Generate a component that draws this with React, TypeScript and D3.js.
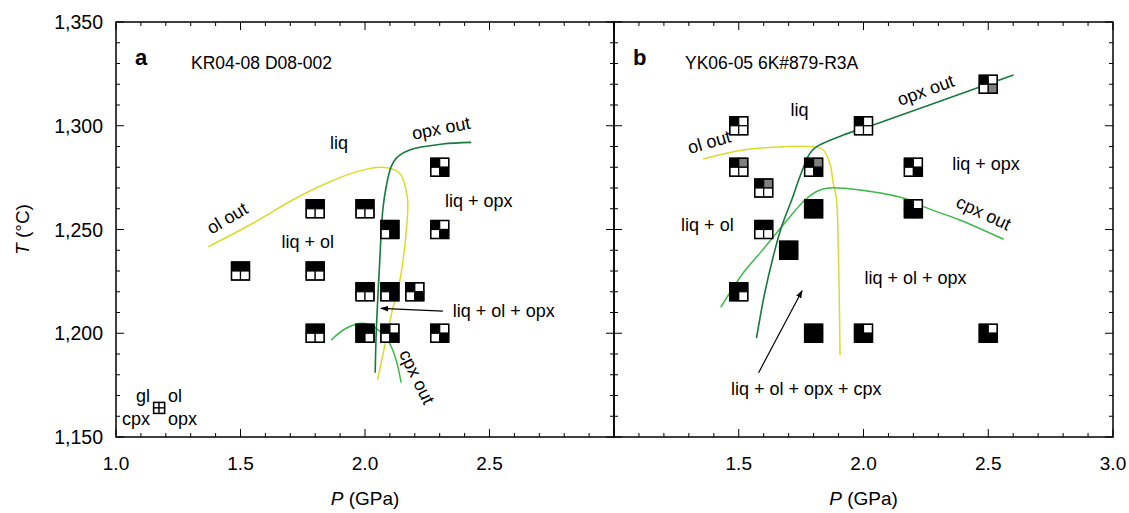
import * as d3 from "d3";
import React from "react";

const W = 1129;
const H = 513;

// axes
const pDomain = [1.0, 3.0];
const tDomain = [1150, 1350];
const tempTickLabels = [1150, 1200, 1250, 1300, 1350];
const pressLabelsA = [1.0, 1.5, 2.0, 2.5];
const pressLabelsB = [1.5, 2.0, 2.5, 3.0];

// experiments, phases = [gl, ol, cpx, opx]; 0 absent, 1 present, 2 minor
const pressA = [1.5, 1.8, 2.0, 1.8, 2.1, 2.3, 2.3, 2.0, 2.1, 2.2, 1.8, 2.0, 2.1, 2.3];
const tempA = [1230, 1260, 1260, 1230, 1250, 1250, 1280, 1220, 1220, 1220, 1200, 1200, 1200, 1200];
const phasesA = [
  [1, 1, 0, 0], [1, 1, 0, 0], [1, 1, 0, 0], [1, 1, 0, 0], [1, 1, 0, 1], [1, 0, 0, 1], [1, 0, 0, 1],
  [1, 1, 0, 0], [1, 1, 0, 1], [1, 0, 0, 1], [1, 1, 0, 0], [1, 1, 1, 0], [1, 0, 0, 1], [1, 0, 0, 1],
];

const pressB = [1.5, 2.0, 2.5, 1.5, 1.6, 1.8, 2.2, 1.8, 2.2, 1.6, 1.7, 1.5, 1.8, 2.0, 2.5];
const tempB = [1300, 1300, 1320, 1280, 1270, 1280, 1280, 1260, 1260, 1250, 1240, 1220, 1200, 1200, 1200];
const phasesB = [
  [1, 0, 0, 0], [1, 0, 0, 0], [1, 0, 0, 2], [1, 2, 0, 0], [1, 2, 0, 0], [1, 2, 0, 1], [1, 0, 0, 1],
  [1, 1, 1, 1], [1, 0, 1, 1], [1, 1, 0, 0], [1, 1, 1, 1], [1, 1, 1, 0], [1, 1, 1, 1], [1, 0, 1, 1],
  [1, 0, 1, 1],
];

// phase boundaries [P, T]
const olOutA: [number, number][] = [
  [1.371, 1241.7], [1.55, 1253], [1.709, 1264.2], [1.85, 1272.5], [1.97, 1278], [2.071, 1280],
  [2.138, 1277.2], [2.17, 1265.7], [2.165, 1248.3], [2.138, 1224.2], [2.11, 1211.2],
  [2.09, 1200.1], [2.07, 1188.6], [2.05, 1177.5],
];
const opxOutA: [number, number][] = [
  [2.4265, 1292], [2.311, 1291.2], [2.179, 1288.3], [2.125, 1284.3], [2.105, 1280.3],
  [2.085, 1270.6], [2.0715, 1259.4], [2.058, 1232], [2.045, 1200.1], [2.041, 1181],
];
const cpxOutA: [number, number][] = [
  [1.864, 1196.7], [1.9245, 1202.4], [1.991, 1204.8], [2.045, 1202.4], [2.098, 1195.2],
  [2.125, 1187.1], [2.145, 1176.2],
];
const olOutB: [number, number][] = [
  [1.3566, 1284], [1.517, 1288.3], [1.678, 1289.9], [1.798, 1289.9], [1.8386, 1288.3],
  [1.865, 1281.9], [1.879, 1272.3], [1.892, 1264.2], [1.899, 1240.1], [1.903, 1216], [1.906, 1189.5],
];
const opxOutB: [number, number][] = [
  [2.6016, 1324.5], [2.508, 1320.5], [2.039, 1300.4], [1.919, 1295.5], [1.812, 1289.9],
  [1.785, 1286.7], [1.745, 1275.4], [1.712, 1264.2], [1.6715, 1251.3], [1.638, 1236.9],
  [1.604, 1219.3], [1.571, 1197.6],
];
const cpxOutB: [number, number][] = [
  [1.4277, 1212.5], [1.517, 1228.9], [1.584, 1238.5], [1.678, 1252.2], [1.765, 1264.2],
  [1.81, 1268.2], [1.852, 1269.9], [1.986, 1269], [2.185, 1264.2], [2.24, 1261], [2.386, 1254.6],
  [2.5614, 1245.3],
];

const YELLOW = "#d9dc2c";
const DARK = "#16793d";
const LIGHT = "#3db94b";
const GRAY = "#808080";
const FONT = "'Liberation Sans', Arial, Helvetica, sans-serif";

const top = 22;
const bottom = 437;
const y = d3.scaleLinear().domain(tDomain).range([bottom, top]);

type Label = { text: string; p: number; t: number; rot?: number };

const labelsA: Label[] = [
  { text: "liq", p: 1.859, t: 1288.8 },
  { text: "opx out", p: 2.305, t: 1298.9, rot: -11 },
  { text: "liq + opx", p: 2.321, t: 1260.8 },
  { text: "ol out", p: 1.446, t: 1255.5, rot: -31 },
  { text: "liq + ol", p: 1.665, t: 1241 },
  { text: "liq + ol + opx", p: 2.352, t: 1208 },
  { text: "cpx out", p: 2.209, t: 1179, rot: 64 },
];
const labelsB: Label[] = [
  { text: "liq", p: 1.707, t: 1304.7 },
  { text: "opx out", p: 2.249, t: 1317.2, rot: -20 },
  { text: "ol out", p: 1.3815, t: 1292.2, rot: -16 },
  { text: "liq + opx", p: 2.356, t: 1278.7 },
  { text: "cpx out", p: 2.482, t: 1258, rot: 25 },
  { text: "liq + ol", p: 1.269, t: 1249.3 },
  { text: "liq + ol + opx", p: 2.004, t: 1223.7 },
  { text: "liq + ol + opx + cpx", p: 1.469, t: 1170.2 },
];

const arrowA = [[2.313, 1210.7], [2.064, 1212]];
const arrowB = [[1.5795, 1181], [1.7538, 1220.5]];

const fillOf = (v: number) => (v === 1 ? "#000" : v === 2 ? GRAY : "#fff");

function Symbol({ cx, cy, ph, size }: { cx: number; cy: number; ph: number[]; size: number }) {
  const h = size / 2;
  const cells = [
    [cx - h, cy - h],
    [cx, cy - h],
    [cx - h, cy],
    [cx, cy],
  ];
  return (
    <g>
      {cells.map((c, i) => (
        <rect key={i} x={c[0]} y={c[1]} width={h} height={h} fill={fillOf(ph[i])} stroke="#000" strokeWidth={1.2} />
      ))}
      <rect x={cx - h} y={cy - h} width={size} height={size} fill="none" stroke="#000" strokeWidth={1.4} />
    </g>
  );
}

function Panel(props: {
  x0: number;
  x1: number;
  letter: string;
  title: string;
  titleDx: number;
  press: number[];
  temp: number[];
  phases: number[][];
  olOut: [number, number][];
  opxOut: [number, number][];
  cpxOut: [number, number][];
  labels: Label[];
  arrow: number[][];
  tickLabels: number[];
  showY: boolean;
  legend: boolean;
}) {
  const x = d3.scaleLinear().domain(pDomain).range([props.x0, props.x1]);
  const line = d3
    .line<[number, number]>()
    .x((d) => x(d[0]))
    .y((d) => y(d[1]))
    .curve(d3.curveCatmullRom.alpha(0.5));
  const minorX = x.ticks(20);
  const majorX = x.ticks(4);
  const minorY = y.ticks(20);
  const majorY = y.ticks(4);
  const isMajorX = (v: number) => majorX.some((m) => Math.abs(m - v) < 1e-6);
  const isMajorY = (v: number) => majorY.some((m) => Math.abs(m - v) < 1e-6);
  const [a0, a1] = props.arrow;
  return (
    <g fontFamily={FONT}>
      {/* ticks */}
      {minorX.map((v) => {
        const len = isMajorX(v) ? 8 : 4;
        return (
          <g key={"x" + v} stroke="#000" strokeWidth={1}>
            <line x1={x(v)} x2={x(v)} y1={bottom} y2={bottom - len} />
            <line x1={x(v)} x2={x(v)} y1={top} y2={top + len} />
          </g>
        );
      })}
      {minorY.map((v) => {
        const len = isMajorY(v) ? 8 : 4;
        return (
          <g key={"y" + v} stroke="#000" strokeWidth={1}>
            <line x1={props.x0} x2={props.x0 + len} y1={y(v)} y2={y(v)} />
            <line x1={props.x1} x2={props.x1 - len} y1={y(v)} y2={y(v)} />
          </g>
        );
      })}
      <rect x={props.x0} y={top} width={props.x1 - props.x0} height={bottom - top} fill="none" stroke="#000" strokeWidth={1.5} />
      {props.tickLabels.map((v) => (
        <text key={"xl" + v} x={x(v)} y={470} fontSize={19} textAnchor="middle">
          {d3.format(".1f")(v)}
        </text>
      ))}
      {props.showY &&
        tempTickLabels.map((v) => (
          <text key={"yl" + v} x={103} y={y(v)} dy="0.36em" fontSize={19.5} textAnchor="end">
            {d3.format(",")(v)}
          </text>
        ))}
      <text x={x(2.0)} y={505} fontSize={19} textAnchor="middle">
        <tspan fontStyle="italic">P</tspan> (GPa)
      </text>

      {/* boundaries */}
      <path d={line(props.olOut) || ""} fill="none" stroke={YELLOW} strokeWidth={1.5} />
      <path d={line(props.cpxOut) || ""} fill="none" stroke={LIGHT} strokeWidth={1.5} />
      <path d={line(props.opxOut) || ""} fill="none" stroke={DARK} strokeWidth={1.6} />

      {/* runs */}
      {props.press.map((p, i) => (
        <Symbol key={"s" + i} cx={x(p)} cy={y(props.temp[i])} ph={props.phases[i]} size={18} />
      ))}

      {/* labels */}
      <text x={props.x0 + 19} y={65} fontSize={22} fontWeight="bold">
        {props.letter}
      </text>
      <text x={props.x0 + props.titleDx} y={69} fontSize={17.5}>
        {props.title}
      </text>
      {props.labels.map((l, i) =>
        l.rot !== undefined ? (
          <text
            key={"l" + i}
            fontSize={18}
            textAnchor="middle"
            dy="0.35em"
            transform={`translate(${x(l.p)},${y(l.t)}) rotate(${l.rot})`}
          >
            {l.text}
          </text>
        ) : (
          <text key={"l" + i} x={x(l.p)} y={y(l.t)} fontSize={18}>
            {l.text}
          </text>
        )
      )}
      <line
        x1={x(a0[0])}
        y1={y(a0[1])}
        x2={x(a1[0])}
        y2={y(a1[1])}
        stroke="#000"
        strokeWidth={1.2}
        markerEnd="url(#arrowhead)"
      />

      {props.legend && (
        <g>
          <Symbol cx={x(1.173)} cy={y(1164)} ph={[0, 0, 0, 0]} size={11} />
          <text x={x(1.173) - 9} y={y(1164) - 6} fontSize={18} textAnchor="end">gl</text>
          <text x={x(1.173) + 9} y={y(1164) - 6} fontSize={18}>ol</text>
          <text x={x(1.173) - 9} y={y(1164) + 17} fontSize={18} textAnchor="end">cpx</text>
          <text x={x(1.173) + 9} y={y(1164) + 17} fontSize={18}>opx</text>
        </g>
      )}
    </g>
  );
}

export default function App() {
  return (
    <svg width={W} height={H} style={{ position: "absolute", left: 0, top: 0, background: "#fff" }}>
      <defs>
        <marker id="arrowhead" viewBox="0 0 10 10" refX={9} refY={5} markerWidth={8} markerHeight={8} orient="auto" markerUnits="userSpaceOnUse">
          <path d="M0,1.5 L10,5 L0,8.5 Z" fill="#000" />
        </marker>
      </defs>
      <rect width={W} height={H} fill="#fff" />
      <text
        transform={`translate(22,${(top + bottom) / 2}) rotate(-90)`}
        fontSize={19}
        textAnchor="middle"
        dy="0.35em"
        fontFamily={FONT}
      >
        <tspan fontStyle="italic">T</tspan> (°C)
      </text>
      <Panel
        x0={116}
        x1={614}
        letter="a"
        title="KR04-08 D08-002"
        titleDx={75}
        press={pressA}
        temp={tempA}
        phases={phasesA}
        olOut={olOutA}
        opxOut={opxOutA}
        cpxOut={cpxOutA}
        labels={labelsA}
        arrow={arrowA}
        tickLabels={pressLabelsA}
        showY={true}
        legend={true}
      />
      <Panel
        x0={614}
        x1={1113}
        letter="b"
        title="YK06-05 6K#879-R3A"
        titleDx={71}
        press={pressB}
        temp={tempB}
        phases={phasesB}
        olOut={olOutB}
        opxOut={opxOutB}
        cpxOut={cpxOutB}
        labels={labelsB}
        arrow={arrowB}
        tickLabels={pressLabelsB}
        showY={false}
        legend={false}
      />
    </svg>
  );
}
